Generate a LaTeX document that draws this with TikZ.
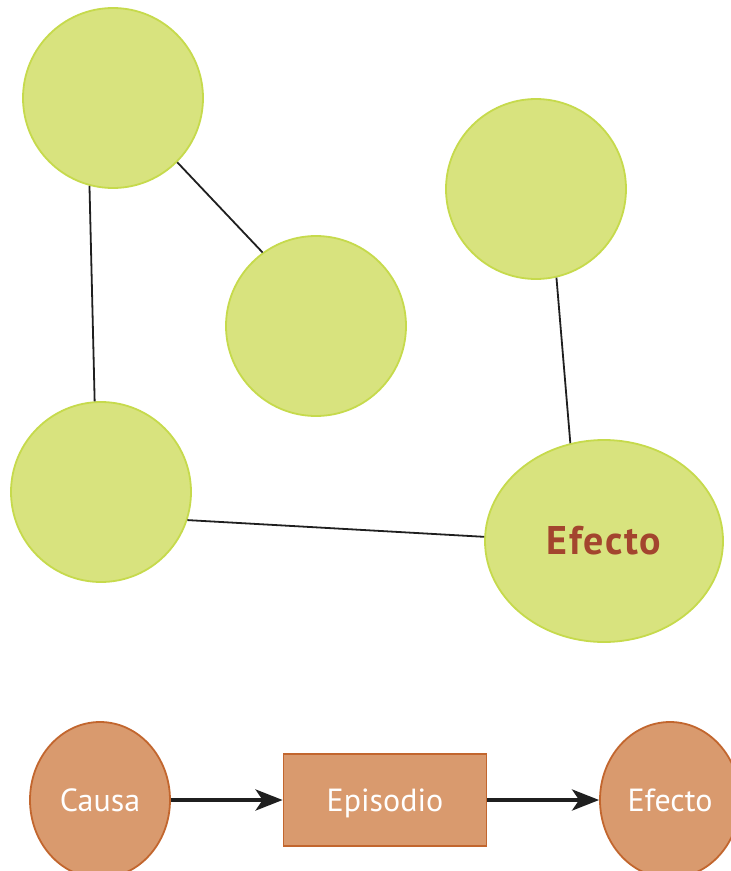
\documentclass[tikz,border=0pt]{standalone}
\usepackage{fontspec}
\setmainfont{PT Sans}
\usetikzlibrary{arrows.meta,shapes.geometric}
\definecolor{gfill}{HTML}{D8E37E}
\definecolor{gline}{HTML}{C6DA4C}
\definecolor{ofill}{HTML}{D99A6E}
\definecolor{oline}{HTML}{C2662E}
\definecolor{redtext}{HTML}{A3452E}
\tikzset{
  gcirc/.style={circle,draw=gline,fill=gfill,line width=1.8pt,minimum size=180pt,inner sep=0pt},
  gell/.style={ellipse,draw=gline,fill=gfill,line width=1.8pt,minimum width=238pt,minimum height=202pt,inner sep=0pt},
  btext/.style={text=white,font=\fontsize{32}{36}\selectfont,text height=28pt,text depth=6pt},
  oell/.style={ellipse,draw=oline,fill=ofill,line width=1.8pt,minimum width=140pt,minimum height=156pt,inner sep=0pt,btext},
  obox/.style={rectangle,draw=oline,fill=ofill,line width=1.8pt,minimum width=203pt,minimum height=92pt,inner sep=0pt,btext},
  link/.style={line width=1.8pt,draw=black!88},
  flow/.style={line width=4pt,draw=black!88,-{Stealth[length=27pt,width=21pt,inset=7pt]}}
}
\begin{document}
\begin{tikzpicture}[x=1pt,y=-1pt]
\useasboundingbox (0,0) rectangle (731,871);
\begin{scope}
\clip (0,0) rectangle (731,871);
\node[gcirc] (c1) at (113,98) {};
\node[gcirc] (c2) at (316,326) {};
\node[gcirc] (c3) at (536,189) {};
\node[gcirc] (c4) at (101,492) {};
\node[gell,text=redtext,font=\fontsize{40}{44}\selectfont\bfseries] (ef) at (604,541) {E\kern1.5pt f\kern1.5pt e\kern1.5pt c\kern1.5pt t\kern1.5pt o};
\draw[link] (c1.255) -- (c4.94);
\draw[link] (c1.-45) -- (c2.126);
\draw[link] (c3.283) -- (ef.109);
\draw[link] (c4.-18) -- (ef.178.6);
\node[oell] (causa) at (100,800) {Causa};
\node[obox] (epi) at (385,800) {Episodio};
\node[oell] (efb) at (670,800) {Efecto};
\draw[flow] (causa.east) -- (epi.west);
\draw[flow] (epi.east) -- (efb.west);
\end{scope}
\end{tikzpicture}
\end{document}
